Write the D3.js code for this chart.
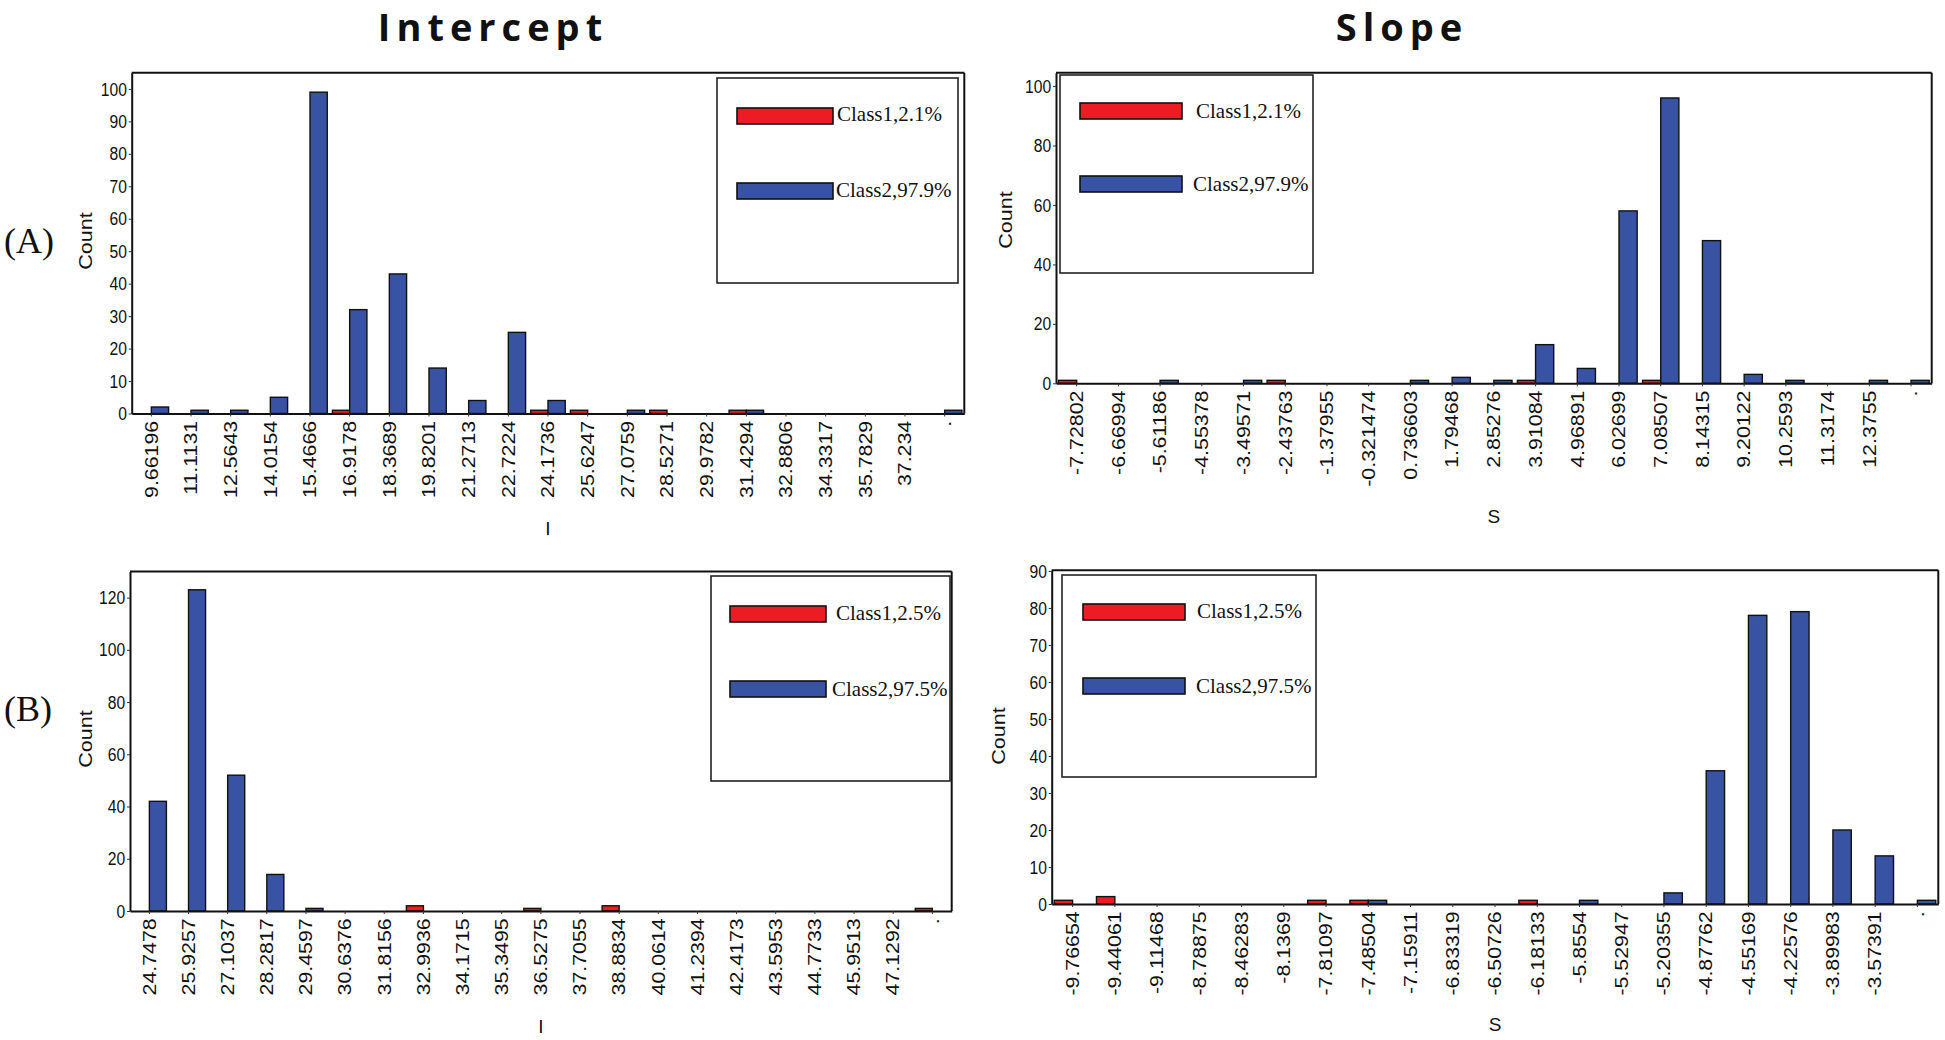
<!DOCTYPE html>
<html>
<head>
<meta charset="utf-8">
<script src="https://cdn.jsdelivr.net/npm/d3@7"></script>
<style>
body { margin: 0; background: #fff; }
</style>
</head>
<body>
<svg id="chart" width="1945" height="1040"></svg>
<script>
"use strict";
const seriesNames = ["Class1", "Class2"];
const seriesColors = ["#ed1c24", "#3953a4"];

// (A) intercept
const interceptACategories = ["9.66196", "11.1131", "12.5643", "14.0154", "15.4666", "16.9178", "18.3689",
    "19.8201", "21.2713", "22.7224", "24.1736", "25.6247", "27.0759", "28.5271", "29.9782", "31.4294",
    "32.8806", "34.3317", "35.7829", "37.234", "."];
const interceptAClass1 = [0, 0, 0, 0, 0, 1, 0, 0, 0, 0, 1, 1, 0, 1, 0, 1, 0, 0, 0, 0, 0];
const interceptAClass2 = [2, 1, 1, 5, 99, 32, 43, 14, 4, 25, 4, 0, 1, 0, 0, 1, 0, 0, 0, 0, 1];
const interceptALegend = ["Class1,2.1%", "Class2,97.9%"];

// (A) slope
const slopeACategories = ["-7.72802", "-6.66994", "-5.61186", "-4.55378", "-3.49571", "-2.43763", "-1.37955",
    "-0.321474", "0.736603", "1.79468", "2.85276", "3.91084", "4.96891", "6.02699", "7.08507", "8.14315",
    "9.20122", "10.2593", "11.3174", "12.3755", "."];
const slopeAClass1 = [1, 0, 0, 0, 0, 1, 0, 0, 0, 0, 0, 1, 0, 0, 1, 0, 0, 0, 0, 0, 0];
const slopeAClass2 = [0, 0, 1, 0, 1, 0, 0, 0, 1, 2, 1, 13, 5, 58, 96, 48, 3, 1, 0, 1, 1];
const slopeALegend = ["Class1,2.1%", "Class2,97.9%"];

// (B) intercept
const interceptBCategories = ["24.7478", "25.9257", "27.1037", "28.2817", "29.4597", "30.6376", "31.8156",
    "32.9936", "34.1715", "35.3495", "36.5275", "37.7055", "38.8834", "40.0614", "41.2394", "42.4173",
    "43.5953", "44.7733", "45.9513", "47.1292", "."];
const interceptBClass1 = [0, 0, 0, 0, 0, 0, 0, 2, 0, 0, 1, 0, 2, 0, 0, 0, 0, 0, 0, 0, 1];
const interceptBClass2 = [42, 123, 52, 14, 1, 0, 0, 0, 0, 0, 0, 0, 0, 0, 0, 0, 0, 0, 0, 0, 0];
const interceptBLegend = ["Class1,2.5%", "Class2,97.5%"];

// (B) slope
const slopeBCategories = ["-9.76654", "-9.44061", "-9.11468", "-8.78875", "-8.46283", "-8.1369", "-7.81097",
    "-7.48504", "-7.15911", "-6.83319", "-6.50726", "-6.18133", "-5.8554", "-5.52947", "-5.20355", "-4.87762",
    "-4.55169", "-4.22576", "-3.89983", "-3.57391", "."];
const slopeBClass1 = [1, 2, 0, 0, 0, 0, 1, 1, 0, 0, 0, 1, 0, 0, 0, 0, 0, 0, 0, 0, 0];
const slopeBClass2 = [0, 0, 0, 0, 0, 0, 0, 1, 0, 0, 0, 0, 1, 0, 3, 36, 78, 79, 20, 13, 1];
const slopeBLegend = ["Class1,2.5%", "Class2,97.5%"];

const columnTitles = ["Intercept", "Slope"];
const rowLabels = ["(A)", "(B)"];

const svg = d3.select("#chart");
const color = d3.scaleOrdinal().domain(seriesNames).range(seriesColors);

const panels = [
    {
        categories: interceptACategories, class1: interceptAClass1, class2: interceptAClass2, legend: interceptALegend,
        left: 131.7, right: 964.3, top: 72.7, bottom: 413.5, yMax: 105, yTicks: d3.range(0, 101, 10),
        xLabel: "I", xLabelY: 535, countX: 91.7, countY: 241,
        box: { x: 717, y: 78, w: 241, h: 205 }, swatchX: 737, swatchW: 96, swatchY: [108, 183], textX: [837, 836], textY: [121, 197]
    },
    {
        categories: slopeACategories, class1: slopeAClass1, class2: slopeAClass2, legend: slopeALegend,
        left: 1056, right: 1931.7, top: 72.7, bottom: 383.3, yMax: 104.5, yTicks: d3.range(0, 101, 20),
        xLabel: "S", xLabelY: 523, countX: 1011.7, countY: 220,
        box: { x: 1060, y: 75, w: 253, h: 198 }, swatchX: 1080, swatchW: 102, swatchY: [103, 176], textX: [1196, 1193], textY: [118, 191]
    },
    {
        categories: interceptBCategories, class1: interceptBClass1, class2: interceptBClass2, legend: interceptBLegend,
        left: 130, right: 951.7, top: 571.5, bottom: 911, yMax: 130, yTicks: d3.range(0, 121, 20),
        xLabel: "I", xLabelY: 1033, countX: 91.7, countY: 739,
        box: { x: 711, y: 576, w: 239, h: 205 }, swatchX: 730, swatchW: 96, swatchY: [606, 681], textX: [836, 832], textY: [620, 696]
    },
    {
        categories: slopeBCategories, class1: slopeBClass1, class2: slopeBClass2, legend: slopeBLegend,
        left: 1051.7, right: 1938.3, top: 570.2, bottom: 904, yMax: 90.2, yTicks: d3.range(0, 91, 10),
        xLabel: "S", xLabelY: 1031, countX: 1005, countY: 736,
        box: { x: 1062, y: 575, w: 254, h: 202 }, swatchX: 1083, swatchW: 102, swatchY: [604, 678], textX: [1197, 1196], textY: [618, 693]
    }
];

function drawPanel(p) {
    const g = svg.append("g");
    const x0 = d3.scaleBand().domain(p.categories).range([p.left, p.right])
        .paddingInner(0.13).paddingOuter(0.06);
    const x1 = d3.scaleBand().domain(seriesNames).range([0, x0.bandwidth()]);
    const y = d3.scaleLinear().domain([0, p.yMax]).range([p.bottom, p.top]);

    const rows = p.categories.map((c, i) => ({ cat: c, values: [p.class1[i], p.class2[i]] }));
    g.append("g").selectAll("g").data(rows).join("g")
        .attr("transform", d => `translate(${x0(d.cat)},0)`)
        .selectAll("rect")
        .data(d => seriesNames.map((s, k) => ({ s: s, v: d.values[k] })).filter(e => e.v > 0))
        .join("rect")
        .attr("x", e => x1(e.s))
        .attr("width", x1.bandwidth())
        .attr("y", e => y(e.v))
        .attr("height", e => y(0) - y(e.v))
        .attr("fill", e => color(e.s))
        .attr("stroke", "#111")
        .attr("stroke-width", 1.4);

    // x axis with rotated tick labels
    const xg = g.append("g").attr("transform", `translate(0,${p.bottom})`)
        .call(d3.axisBottom(x0).tickSize(3).tickSizeOuter(0));
    xg.select(".domain").attr("stroke", "#111").attr("stroke-width", 2);
    xg.selectAll(".tick line").attr("stroke", "#333");
    xg.selectAll(".tick text")
        .attr("font-family", "Arial, 'Liberation Sans', sans-serif")
        .attr("font-size", 17.5)
        .attr("fill", "#111")
        .attr("text-anchor", "end")
        .attr("transform", "rotate(-90) scale(1.22,1)")
        .attr("x", -6)
        .attr("y", 0)
        .attr("dy", "0.36em");

    // y axis
    const yg = g.append("g").attr("transform", `translate(${p.left},0)`)
        .call(d3.axisLeft(y).tickValues(p.yTicks).tickSize(3).tickSizeOuter(0).tickPadding(2));
    yg.select(".domain").attr("stroke", "#111").attr("stroke-width", 2);
    yg.selectAll(".tick line").attr("stroke", "#333");
    yg.selectAll(".tick text")
        .attr("font-family", "Arial, 'Liberation Sans', sans-serif")
        .attr("font-size", 16.5)
        .attr("fill", "#111")
        .attr("transform", "scale(0.95,1.15)");

    // frame: top and right
    g.append("line").attr("x1", p.left).attr("x2", p.right).attr("y1", p.top).attr("y2", p.top)
        .attr("stroke", "#111").attr("stroke-width", 2);
    g.append("line").attr("x1", p.right).attr("x2", p.right).attr("y1", p.top).attr("y2", p.bottom)
        .attr("stroke", "#111").attr("stroke-width", 2);

    // axis titles
    g.append("text").attr("x", (p.left + p.right) / 2).attr("y", p.xLabelY)
        .attr("text-anchor", "middle")
        .attr("font-family", "Arial, 'Liberation Sans', sans-serif")
        .attr("font-size", 19).attr("fill", "#111")
        .text(p.xLabel);
    g.append("text")
        .attr("transform", `translate(${p.countX},${p.countY}) rotate(-90) scale(1.2,1)`)
        .attr("text-anchor", "middle")
        .attr("font-family", "Arial, 'Liberation Sans', sans-serif")
        .attr("font-size", 18).attr("fill", "#111")
        .text("Count");

    // legend
    const lg = g.append("g");
    lg.append("rect").attr("x", p.box.x).attr("y", p.box.y).attr("width", p.box.w).attr("height", p.box.h)
        .attr("fill", "#fff").attr("stroke", "#222").attr("stroke-width", 1.6);
    seriesNames.forEach((s, k) => {
        lg.append("rect").attr("x", p.swatchX).attr("y", p.swatchY[k])
            .attr("width", p.swatchW).attr("height", 16)
            .attr("fill", color(s)).attr("stroke", "#111").attr("stroke-width", 1.6);
        lg.append("text").attr("x", p.textX[k]).attr("y", p.textY[k])
            .attr("font-family", "'Times New Roman', 'Liberation Serif', serif")
            .attr("font-size", 21).attr("fill", "#111")
            .text(p.legend[k]);
    });
}

panels.forEach(drawPanel);

// column titles
[493, 1402].forEach((cx, i) => {
    svg.append("text").attr("x", cx).attr("y", 41)
        .attr("text-anchor", "middle")
        .attr("font-family", "'Open Sans', Arial, sans-serif")
        .attr("font-weight", "bold")
        .attr("font-size", 38)
        .attr("letter-spacing", 6)
        .attr("fill", "#111")
        .text(columnTitles[i]);
});

// row labels
[253, 721].forEach((by, i) => {
    svg.append("text").attr("x", 4).attr("y", by)
        .attr("font-family", "'Times New Roman', 'Liberation Serif', serif")
        .attr("font-size", 36).attr("fill", "#111")
        .text(rowLabels[i]);
});
</script>
</body>
</html>
